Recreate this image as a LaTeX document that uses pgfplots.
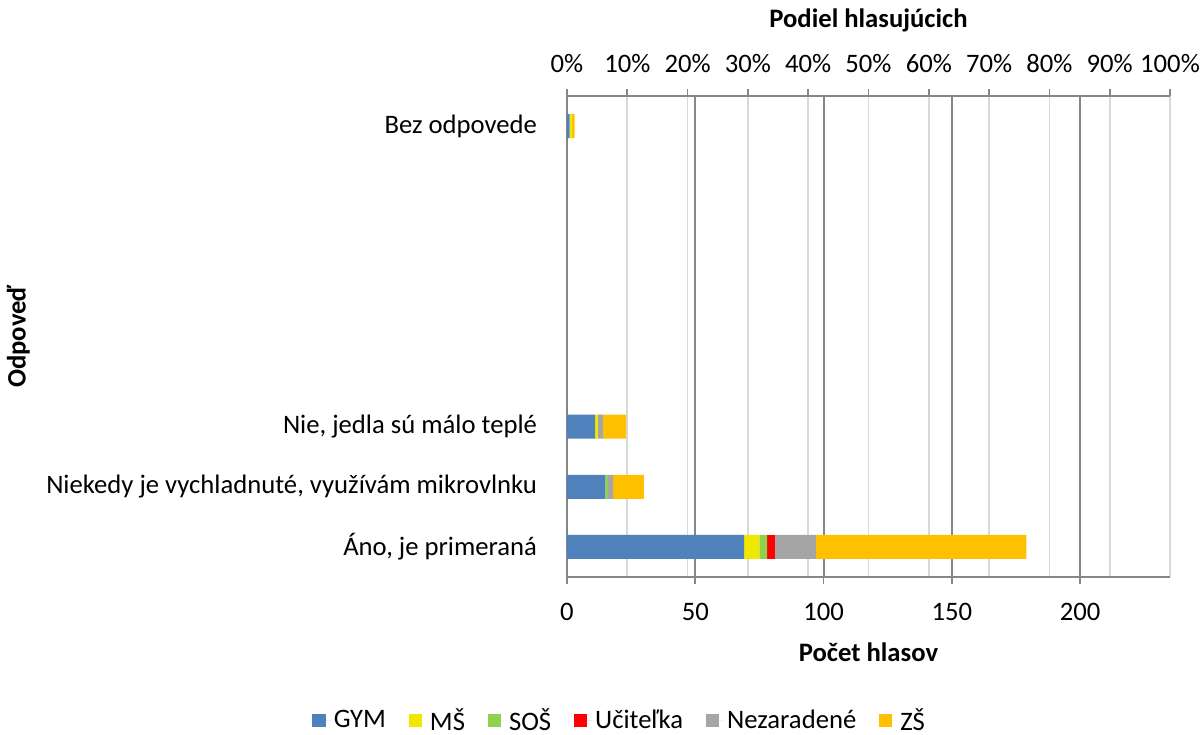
\documentclass[border=0pt]{standalone}
\usepackage{fontspec}
\setmainfont{Carlito}
\usepackage{pgfplots}
\pgfplotsset{compat=1.18}
\definecolor{cgym}{RGB}{79,129,189}
\definecolor{cms}{RGB}{240,232,0}
\definecolor{csos}{RGB}{146,208,80}
\definecolor{cuc}{RGB}{255,0,0}
\definecolor{cnez}{RGB}{165,165,165}
\definecolor{czs}{RGB}{255,192,0}
\definecolor{axgray}{RGB}{134,134,134}
\definecolor{gridlight}{RGB}{217,217,217}
\begin{document}
\begin{tikzpicture}[font=\fontsize{20}{24}\selectfont]
\useasboundingbox (-425.25pt,-118.5pt) rectangle (477.75pt,432.75pt);
% secondary (top) percent axis
\begin{axis}[
  scale only axis, width=452.25pt, height=360.75pt,
  at={(0pt,0pt)}, anchor=south west,
  xmin=0, xmax=100, ymin=0, ymax=1,
  axis x line*=top, axis y line=none,
  x axis line style={color=axgray, line width=1.5pt, -},
  xtick={0,10,...,100},
  xticklabel={\pgfmathprintnumber{\tick}\%},
  /pgf/number format/assume math mode=true,
  xmajorgrids, major grid style={color=gridlight, line width=1.2pt},
  tick align=outside, major tick length=5pt,
  tick style={color=axgray, line width=1.2pt},
  xticklabel style={yshift=9pt},
  xlabel={\bfseries Podiel hlasujúcich},
  xlabel style={at={(axis description cs:0.5,1.158)}, anchor=center},
]
\addplot[draw=none] coordinates {(0,0)};
\end{axis}
% primary axis
\begin{axis}[
  scale only axis, width=452.25pt, height=360.75pt,
  at={(0pt,0pt)}, anchor=south west,
  xbar stacked, bar width=18pt,
  xmin=0, xmax=235, ymin=-0.5, ymax=7.5,
  axis x line*=bottom, axis y line*=left,
  x axis line style={color=axgray, line width=1.5pt, -},
  y axis line style={color=axgray, line width=1.5pt, -},
  xtick={0,50,...,200},
  /pgf/number format/assume math mode=true,
  ytick={0,1,2,7},
  yticklabels={{Áno, je primeraná},{Niekedy je vychladnuté, využívám mikrovlnku},{Nie, jedla sú málo teplé},{Bez odpovede}},
  ytick style={draw=none},
  xtick style={color=axgray, line width=1.2pt},
  tick align=outside, major tick length=5pt,
  xmajorgrids, major grid style={color=axgray, line width=1.5pt},
  xticklabel style={yshift=-11pt},
  yticklabel style={xshift=-14pt},
  xlabel={\bfseries Počet hlasov},
  xlabel style={at={(axis description cs:0.5,-0.156)}, anchor=center},
  ylabel={\bfseries Odpoveď},
  ylabel style={at={(axis description cs:-0.910,0.5)}, anchor=center, rotate=0},
  legend style={draw=none, at={(axis description cs:0.088,-0.298)}, anchor=center,
    legend columns=-1, /tikz/every even column/.append style={column sep=15pt},
    inner sep=0pt},
  legend image code/.code={\path[#1,draw=none] (0pt,-5pt) rectangle (10pt,5pt); \path (0pt,0pt) -- (14pt,0pt);},
  every axis plot/.append style={draw=none},
]
\addplot[fill=cgym] coordinates {(69,0) (15,1) (11,2) (1,7)};
\addplot[fill=cms] coordinates {(6,0) (0,1) (1,2) (1,7)};
\addplot[fill=csos] coordinates {(3,0) (1,1) (0,2) (0,7)};
\addplot[fill=cuc] coordinates {(3,0) (0,1) (0,2) (0,7)};
\addplot[fill=cnez] coordinates {(16,0) (2,1) (2,2) (0,7)};
\addplot[fill=czs] coordinates {(82,0) (12,1) (9,2) (1,7)};
\legend{GYM, MŠ, SOŠ, Učiteľka, Nezaradené, ZŠ}
\end{axis}
\end{tikzpicture}
\end{document}
